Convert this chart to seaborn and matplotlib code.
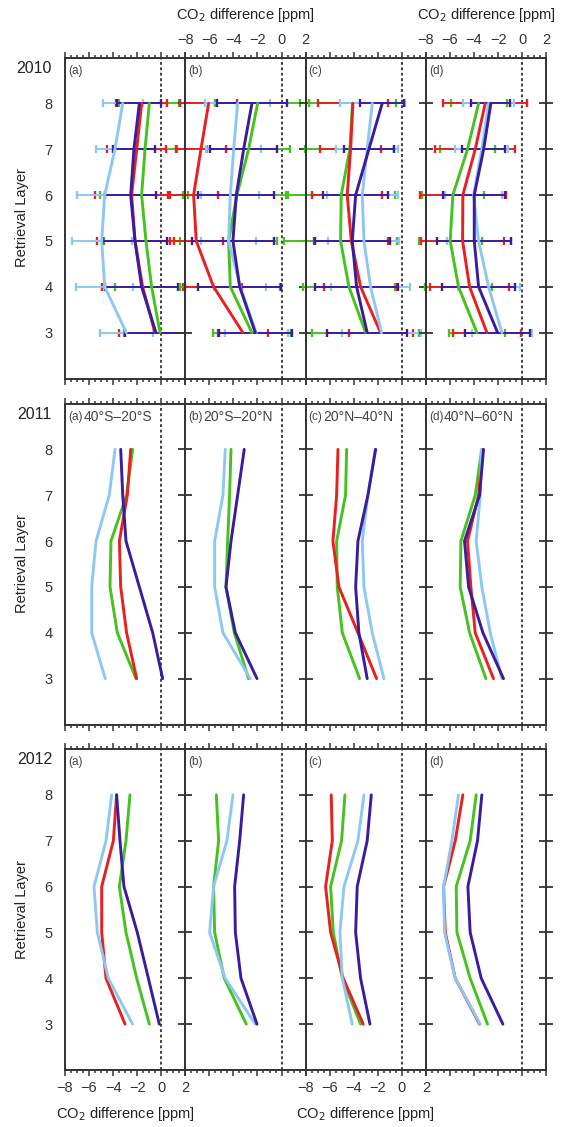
import numpy as np
import pandas as pd
import seaborn as sns
import matplotlib
matplotlib.use("Agg")
import matplotlib.pyplot as plt
from matplotlib.ticker import MultipleLocator

years = [2010, 2011, 2012]
panels = ["a", "b", "c", "d"]
regions = ["40°S–20°S", "20°S–20°N", "20°N–40°N", "40°N–60°N"]
layers = [3, 4, 5, 6, 7, 8]
# drawing order of the four profiles
series = ["green", "red", "lightblue", "darkblue"]
palette = {"lightblue": "#8ec8f2", "green": "#46c21e",
           "red": "#ea1f1f", "darkblue": "#3b1c9c"}

# CO2 difference [ppm], one list per panel (a-d), layers 3..8
lb_2010 = [[-2.9, -4.7, -4.95, -4.7, -3.85, -3.2], [-2.1, -3.43, -4.4, -4.26, -3.98, -3.65],
           [-1.68, -2.6, -3.15, -3.29, -2.88, -2.46], [-1.68, -2.79, -3.62, -4.04, -3.35, -2.79]]
gr_2010 = [[-0.1, -0.8, -1.27, -1.63, -1.35, -0.99], [-2.46, -4.26, -4.4, -3.71, -2.74, -1.99],
           [-3.01, -4.4, -5.09, -5.04, -4.32, -4.1], [-3.76, -5.29, -5.98, -5.76, -4.54, -3.62]]
rd_2010 = [[-0.52, -1.55, -2.18, -2.46, -2.04, -1.63], [-3.21, -5.65, -7.09, -7.31, -6.7, -6.06],
           [-1.77, -3.43, -4.2, -4.54, -4.26, -4.07], [-2.93, -4.37, -4.95, -4.93, -3.9, -3.07]]
db_2010 = [[-0.44, -1.63, -2.18, -2.54, -2.27, -1.82], [-2.18, -3.48, -4.04, -3.76, -3.15, -2.46],
           [-2.88, -3.76, -4.12, -3.84, -2.74, -1.63], [-2.04, -3.62, -3.98, -3.98, -3.2, -2.6]]

# 2010 error bar half widths [ppm]
lb_err = [[2.2, 2.35, 2.5, 2.3, 1.6, 1.66], [2.6, 2.17, 2.27, 2.4, 2.3, 2.7],
          [3.27, 3.3, 2.95, 2.96, 2.6, 2.7], [2.5, 2.58, 2.66, 2.4, 2.2, 2.13]]
gr_err = [[3.0, 3.05, 3.5, 3.45, 2.7, 2.5], [3.27, 4.15, 4.0, 4.1, 3.46, 3.5],
          [4.43, 3.8, 4.7, 4.43, 3.7, 3.6], [2.33, 2.8, 2.63, 2.55, 2.3, 2.33]]
rd_err = [[3.0, 3.4, 3.2, 3.05, 2.45, 2.1], [2.1, 2.4, 2.2, 2.0, 2.1, 2.35],
          [2.66, 3.0, 3.07, 2.9, 2.55, 2.88], [2.84, 3.28, 3.46, 3.6, 3.33, 3.5]]
db_err = [[2.6, 3.05, 2.7, 2.13, 1.77, 1.83], [3.05, 3.43, 3.43, 3.15, 2.77, 2.9],
          [3.35, 3.46, 3.1, 2.73, 2.05, 1.85], [2.7, 3.02, 3.07, 2.56, 1.8, 1.63]]

lb_2011 = [[-4.65, -5.78, -5.78, -5.42, -4.32, -3.84], [-2.6, -4.87, -5.56, -5.56, -4.87, -4.68],
           [-1.49, -2.46, -3.15, -3.29, -2.82, -2.2], [-1.68, -2.65, -3.35, -3.82, -3.48, -3.4]]
gr_2011 = [[-2.1, -3.65, -4.26, -4.18, -2.88, -2.38], [-2.74, -3.93, -4.62, -4.48, -4.32, -4.2],
           [-3.51, -4.95, -5.37, -5.42, -4.68, -4.59], [-3.01, -4.37, -5.15, -5.09, -3.9, -3.35]]
rd_2011 = [[-2.04, -2.88, -3.37, -3.48, -2.82, -2.54], None,
           [-2.1, -3.65, -5.23, -5.73, -5.42, -5.31], [-2.38, -3.9, -4.26, -4.54, -3.62, -3.29]]
db_2011 = [[0.12, -0.71, -1.82, -2.93, -3.2, -3.37], [-2.04, -3.84, -4.62, -4.2, -3.65, -3.1],
           [-2.88, -3.57, -3.84, -3.65, -2.82, -2.18], [-1.55, -3.26, -4.45, -4.79, -3.54, -3.21]]

lb_2012 = [[-2.38, -4.4, -5.31, -5.59, -4.59, -4.12], [-2.18, -4.68, -5.98, -5.65, -4.54, -4.04],
           [-4.12, -4.95, -5.15, -4.81, -3.65, -3.15], [-3.48, -5.56, -6.45, -6.53, -5.84, -5.29]]
gr_2012 = [[-0.99, -2.04, -2.93, -3.48, -2.93, -2.6], [-2.93, -4.76, -5.56, -5.65, -5.23, -5.42],
           [-3.43, -4.95, -5.7, -5.92, -5.01, -4.73], [-2.88, -4.32, -5.42, -5.48, -4.32, -3.82]]
rd_2012 = [[-3.01, -4.59, -4.95, -4.95, -3.98, -3.71], None,
           [-3.21, -4.87, -5.92, -6.34, -5.78, -5.87], [-3.54, -5.56, -6.39, -6.53, -5.56, -4.93]]
db_2012 = [[-0.16, -1.07, -1.99, -3.1, -3.43, -3.71], [-2.04, -3.37, -3.84, -3.9, -3.48, -3.15],
           [-2.65, -3.43, -3.84, -3.71, -2.88, -2.54], [-1.6, -3.4, -4.32, -4.51, -3.71, -3.35]]

values = {
    2010: {"lightblue": lb_2010, "green": gr_2010, "red": rd_2010, "darkblue": db_2010},
    2011: {"lightblue": lb_2011, "green": gr_2011, "red": rd_2011, "darkblue": db_2011},
    2012: {"lightblue": lb_2012, "green": gr_2012, "red": rd_2012, "darkblue": db_2012},
}
errors = {"lightblue": lb_err, "green": gr_err, "red": rd_err, "darkblue": db_err}

rows = []
for yr in years:
    for s in series:
        for pi, prof in enumerate(values[yr][s]):
            if prof is None:
                continue
            for k, lay in enumerate(layers):
                err = errors[s][pi][k] if yr == 2010 else np.nan
                rows.append((yr, panels[pi], s, lay, prof[k], err))
df = pd.DataFrame(rows, columns=["year", "panel", "series", "layer", "diff", "err"])

sns.set_theme(style="ticks")
plt.rcParams["font.family"] = ["Liberation Sans", "DejaVu Sans"]
ink = "#333333"
plt.rcParams.update({"axes.edgecolor": ink, "xtick.color": ink, "ytick.color": ink,
                     "text.color": "#222222", "axes.linewidth": 1.4})

W, H = 568, 1127
fig = plt.figure(figsize=(W / 100, H / 100), dpi=100)
lefts = [65, 185.3, 305.6, 425.9]
pw = 120.3
tops = [57.5, 403.5, 749]
ph = 321

for r, yr in enumerate(years):
    for c, p in enumerate(panels):
        ax = fig.add_axes([lefts[c] / W, 1 - (tops[r] + ph) / H, pw / W, ph / H])
        sub = df[(df.year == yr) & (df.panel == p)]

        if yr == 2010:
            for s in series:
                ss = sub[sub.series == s]
                eb = ax.errorbar(ss["diff"], ss["layer"], xerr=ss["err"], fmt="none",
                                 ecolor=palette[s], elinewidth=1.4, capsize=3, capthick=1.7)
                for art in list(eb.lines[1]) + list(eb.lines[2]):
                    art.set_clip_on(False)

        sns.lineplot(data=sub, x="diff", y="layer", hue="series", hue_order=series,
                     palette=palette, orient="y", estimator=None, lw=2.1,
                     legend=False, ax=ax)
        ax.axvline(0, color=ink, lw=1.3, ls=(0, (1.6, 1.4)), zorder=1)

        ax.set_xlim(-8, 2)
        ax.set_ylim(2, 9)
        ax.set_xlabel("")
        ax.set_ylabel("")
        ax.xaxis.set_major_locator(MultipleLocator(2))
        ax.xaxis.set_minor_locator(MultipleLocator(0.5))
        ax.set_yticks(layers)

        top_lab = (r == 0 and c in (1, 3))
        bot_lab = (r == 2 and c in (0, 2))
        ax.tick_params(axis="x", which="both", direction="out", top=True, bottom=True,
                       labeltop=top_lab, labelbottom=bot_lab, labelsize=10.5, width=1.1)
        ax.tick_params(axis="x", which="major", length=4.2)
        ax.tick_params(axis="x", which="minor", length=2.3)
        if c == 0:
            ax.tick_params(axis="y", length=0, pad=9, labelsize=10.5)
        else:
            ax.tick_params(axis="y", direction="inout", length=9.5, width=1.3,
                           labelleft=False, right=(c == 3))

        t = ax.text(0.025, 0.978, f"({p})", transform=ax.transAxes, ha="left", va="top",
                    fontsize=8.5, color="#444444")
        if yr == 2011:
            ax.annotate(regions[c], xy=(1, 0.45), xycoords=t, xytext=(0.5, 0),
                        textcoords="offset points", ha="left", va="center",
                        fontsize=10, color="#444444")

    fig.text(52 / W, 1 - (tops[r] + 11) / H, str(yr), ha="right", va="center", fontsize=11.5)
    fig.text(22 / W, 1 - (tops[r] + ph / 2) / H, "Retrieval Layer", rotation=90,
             ha="center", va="center", fontsize=10.5)

xlab = "CO$_2$ difference [ppm]"
for c in (1, 3):
    fig.text((lefts[c] + pw / 2) / W, 1 - 15 / H, xlab, ha="center", va="center", fontsize=10.5)
for c in (0, 2):
    fig.text((lefts[c] + pw / 2) / W, 1 - 1114 / H, xlab, ha="center", va="center", fontsize=10.5)

fig.savefig("out.png", dpi=100)
